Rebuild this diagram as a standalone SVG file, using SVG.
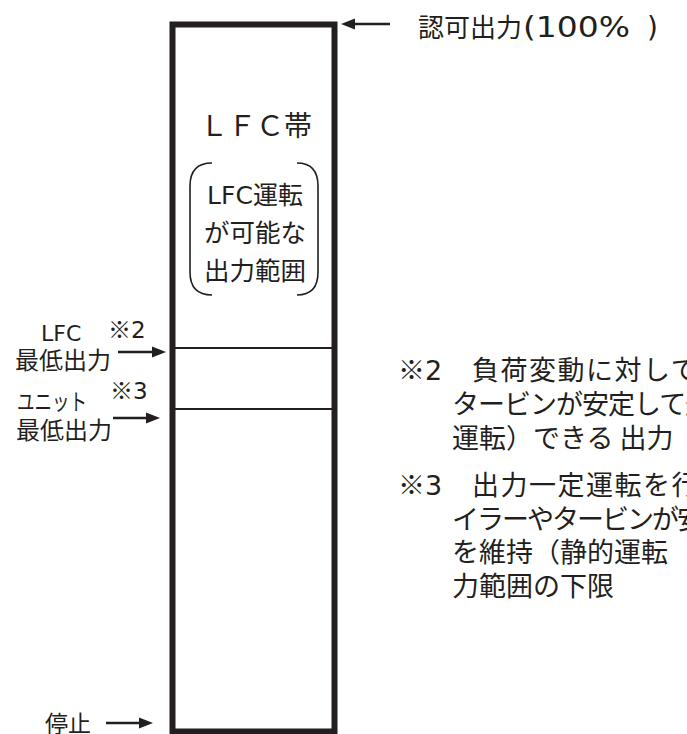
<svg xmlns="http://www.w3.org/2000/svg" width="687" height="734" viewBox="0 0 687 734">
<style>
text{font-family:"DejaVu Sans","Noto Sans CJK JP",sans-serif;fill:#231f20}
.j{font-family:"Noto Sans CJK JP",sans-serif}
.conn line{stroke:#231f20;stroke-width:2.5}
.conn polygon{fill:#231f20}
.note{font-size:27px}
</style>
<rect width="687" height="734" fill="#fff"/>
<g id="band">
<rect x="172.5" y="24.5" width="162" height="707" fill="none" stroke="#231f20" stroke-width="6"/>
<line x1="172.5" y1="348" x2="334.5" y2="348" stroke="#231f20" stroke-width="2"/>
<line x1="172.5" y1="409" x2="334.5" y2="409" stroke="#231f20" stroke-width="2"/>
<text x="256" y="136" font-size="28" text-anchor="middle" class="j">ＬＦＣ帯</text>
</g>
<g id="range">
<path d="M212,163 Q190,163 190,186 L190,272 Q190,295 212,295" fill="none" stroke="#231f20" stroke-width="1.6"/>
<path d="M297,163 Q318,163 318,186 L318,272 Q318,295 297,295" fill="none" stroke="#231f20" stroke-width="1.6"/>
<text x="255" y="204" font-size="25" text-anchor="middle">LFC<tspan class="j">運転</tspan></text>
<text x="255" y="242" font-size="25.5" text-anchor="middle" class="j">が可能な</text>
<text x="255" y="280" font-size="25.5" text-anchor="middle" class="j">出力範囲</text>
</g>
<g id="max">
<text x="418" y="37" font-size="26"><tspan class="j">認可出力</tspan><tspan x="523" font-size="28" textLength="107" lengthAdjust="spacingAndGlyphs">(100%</tspan><tspan x="647" font-size="28">)</tspan></text>
</g>
<g id="lfcmin">
<text x="41" y="341" font-size="22">LFC</text>
<text x="108" y="338" font-size="23"><tspan class="j">※</tspan>2</text>
<text x="15" y="369" font-size="24" class="j">最低出力</text>
</g>
<g id="unitmin">
<text x="17" y="410" font-size="23" class="j" textLength="70" lengthAdjust="spacingAndGlyphs">ユニット</text>
<text x="110" y="399" font-size="23"><tspan class="j">※</tspan>3</text>
<text x="16" y="439" font-size="24" class="j">最低出力</text>
</g>
<g id="stop">
<text x="45" y="732" font-size="23" class="j">停止</text>
</g>
<g id="notes">
<text x="398" y="380" class="note"><tspan class="j">※</tspan>2<tspan x="472" class="j" letter-spacing="1.5">負荷変動に対して</tspan></text>
<text x="452" y="414" class="note j" letter-spacing="-1">タービンが安定して追</text>
<text x="452" y="448" class="note j">運転）できる 出力</text>
<text x="398" y="495" class="note"><tspan class="j">※</tspan>3<tspan x="472" class="j" letter-spacing="1.5">出力一定運転を行</tspan></text>
<text x="452" y="529" class="note j" letter-spacing="-2">イラーやタービンが安</text>
<text x="452" y="562" class="note j">を維持（静的運転</text>
<text x="452" y="596" class="note j">力範囲の下限</text>
</g>
<g id="connectors" class="conn">
<line x1="352" y1="24" x2="390" y2="24"/>
<polygon points="341,24 355,18.5 355,29.5"/>
<line x1="118" y1="352" x2="154" y2="352"/>
<polygon points="166,352 152,346.5 152,357.5"/>
<line x1="113" y1="418" x2="148" y2="418"/>
<polygon points="160,418 146,412.5 146,423.5"/>
<line x1="106" y1="723" x2="141" y2="723"/>
<polygon points="153,723 139,717.5 139,728.5"/>
</g>
</svg>
